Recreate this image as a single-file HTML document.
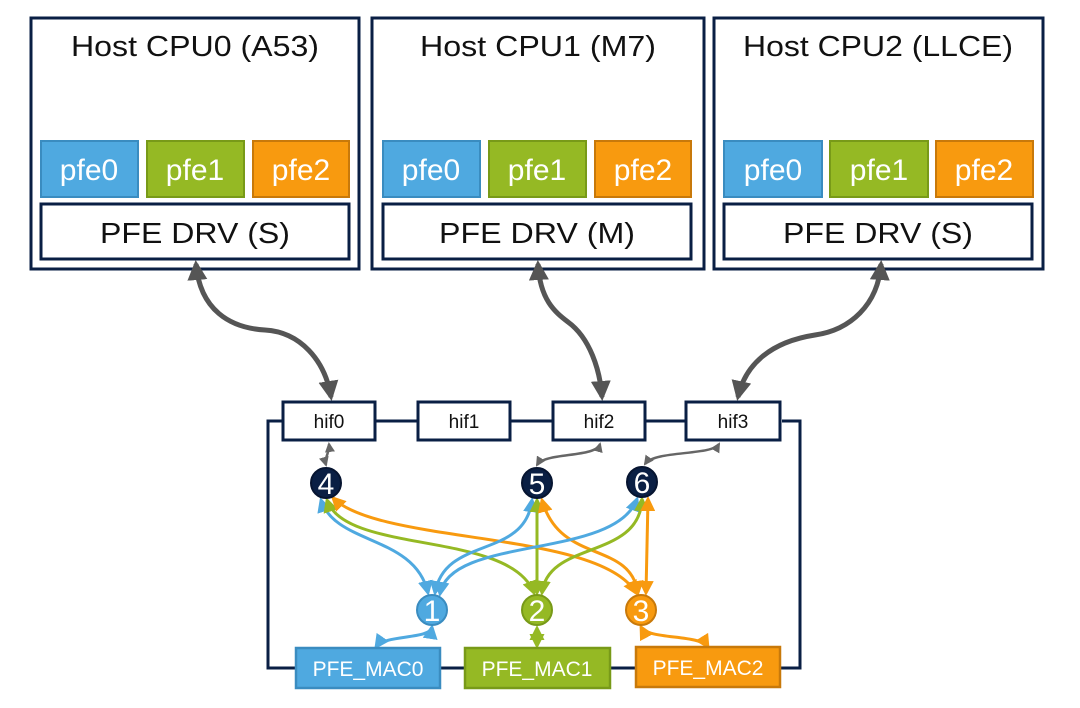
<!DOCTYPE html>
<html><head><meta charset="utf-8"><style>
html,body{margin:0;padding:0;background:#fff;}
svg{display:block;font-family:"Liberation Sans",Arial,sans-serif;}
</style></head><body>
<svg width="1080" height="708" viewBox="0 0 1080 708" xmlns="http://www.w3.org/2000/svg">
<defs>
<marker id="mg" viewBox="0 0 10 10" refX="8" refY="5" markerWidth="4" markerHeight="4" orient="auto-start-reverse" markerUnits="strokeWidth"><path d="M0,0 L10,5 L0,10 z" fill="#555"/></marker>
<marker id="mg2" viewBox="0 0 10 10" refX="8" refY="5" markerWidth="4" markerHeight="4" orient="auto-start-reverse" markerUnits="strokeWidth"><path d="M0,0 L10,5 L0,10 z" fill="#666"/></marker>
<marker id="mb" viewBox="0 0 10 10" refX="8" refY="5" markerWidth="5" markerHeight="5" orient="auto-start-reverse" markerUnits="strokeWidth"><path d="M0,0 L10,5 L0,10 z" fill="#4FA9E0"/></marker>
<marker id="mn" viewBox="0 0 10 10" refX="8" refY="5" markerWidth="5" markerHeight="5" orient="auto-start-reverse" markerUnits="strokeWidth"><path d="M0,0 L10,5 L0,10 z" fill="#95B924"/></marker>
<marker id="mo" viewBox="0 0 10 10" refX="8" refY="5" markerWidth="5" markerHeight="5" orient="auto-start-reverse" markerUnits="strokeWidth"><path d="M0,0 L10,5 L0,10 z" fill="#F89A0F"/></marker>
</defs>

<g stroke="#0A1F44" stroke-width="3" fill="#fff">
<rect x="31" y="18" width="328" height="251"/>
<rect x="372" y="18" width="332" height="251"/>
<rect x="714" y="18" width="329" height="251"/>
<rect x="41" y="204" width="308" height="55"/>
<rect x="383" y="204" width="308" height="55"/>
<rect x="724" y="204" width="308" height="55"/>
</g>
<g font-size="29" fill="#111" text-anchor="middle">
<text x="195" y="56" textLength="248" lengthAdjust="spacingAndGlyphs">Host CPU0 (A53)</text>
<text x="538" y="56" textLength="236" lengthAdjust="spacingAndGlyphs">Host CPU1 (M7)</text>
<text x="878" y="56" textLength="270" lengthAdjust="spacingAndGlyphs">Host CPU2 (LLCE)</text>
<text x="195" y="243" textLength="190" lengthAdjust="spacingAndGlyphs">PFE DRV (S)</text>
<text x="537" y="243" textLength="196" lengthAdjust="spacingAndGlyphs">PFE DRV (M)</text>
<text x="878" y="243" textLength="190" lengthAdjust="spacingAndGlyphs">PFE DRV (S)</text>
</g>
<g stroke-width="2">
<rect x="41" y="141" width="97" height="56" fill="#4FA9E0" stroke="#3A8CC0"/>
<rect x="147" y="141" width="97" height="56" fill="#95B924" stroke="#789A18"/>
<rect x="253" y="141" width="96" height="56" fill="#F89A0F" stroke="#C8790A"/>
<rect x="383" y="141" width="97" height="56" fill="#4FA9E0" stroke="#3A8CC0"/>
<rect x="489" y="141" width="97" height="56" fill="#95B924" stroke="#789A18"/>
<rect x="595" y="141" width="96" height="56" fill="#F89A0F" stroke="#C8790A"/>
<rect x="724" y="141" width="98" height="56" fill="#4FA9E0" stroke="#3A8CC0"/>
<rect x="830" y="141" width="98" height="56" fill="#95B924" stroke="#789A18"/>
<rect x="936" y="141" width="97" height="56" fill="#F89A0F" stroke="#C8790A"/>
</g>
<g font-size="30" fill="#fff" text-anchor="middle">
<text x="89" y="180">pfe0</text><text x="195" y="180">pfe1</text><text x="301" y="180">pfe2</text>
<text x="431" y="180">pfe0</text><text x="537" y="180">pfe1</text><text x="643" y="180">pfe2</text>
<text x="773" y="180">pfe0</text><text x="879" y="180">pfe1</text><text x="984" y="180">pfe2</text>
</g>

<g fill="none" stroke="#555" stroke-width="5" marker-start="url(#mg)" marker-end="url(#mg)">
<path d="M196,264 C200,310 230,328 265,330 C300,332 325,360 331,397"/>
<path d="M538,264 C540,300 555,312 568,322 C590,338 600,370 602,397"/>
<path d="M881,264 C878,305 850,330 815,335 C770,342 745,365 738,397"/>
</g>

<path d="M283,421 H268 V668 H296 M440,668 H465 M610,668 H636 M780,668 H800 V421 H782" fill="none" stroke="#0A1F44" stroke-width="3"/>
<path d="M375,421 H418 M510,421 H553 M645,421 H686" stroke="#0A1F44" stroke-width="3"/>
<g stroke="#0A1F44" stroke-width="3" fill="#fff">
<rect x="283" y="402" width="92" height="38"/>
<rect x="418" y="402" width="92" height="38"/>
<rect x="553" y="402" width="92" height="38"/>
<rect x="686" y="402" width="94" height="38"/>
</g>
<g font-size="19" fill="#111" text-anchor="middle">
<text x="329" y="428">hif0</text><text x="464" y="428">hif1</text><text x="599" y="428">hif2</text><text x="733" y="428">hif3</text>
</g>

<g fill="none" stroke="#666" stroke-width="2.5" marker-start="url(#mg2)" marker-end="url(#mg2)">
<path d="M329,444 C330,452 324,458 326,465"/>
<path d="M600,444 C596,458 545,452 537,465"/>
<path d="M719,444 C712,456 655,450 645,464"/>
</g>

<g fill="none" stroke-width="3">
<path d="M321,500 C335,545 415,535 428,593" stroke="#4FA9E0" marker-start="url(#mb)" marker-end="url(#mb)"/>
<path d="M327,500 C345,555 510,530 534,593" stroke="#95B924" marker-start="url(#mn)" marker-end="url(#mn)"/>
<path d="M333,498 C380,545 600,530 636,593" stroke="#F89A0F" marker-start="url(#mo)" marker-end="url(#mo)"/>
<path d="M532,500 C525,560 445,535 435,593" stroke="#4FA9E0" marker-start="url(#mb)" marker-end="url(#mb)"/>
<path d="M537,500 L537,593" stroke="#95B924" marker-start="url(#mn)" marker-end="url(#mn)"/>
<path d="M542,500 C560,565 630,540 638,593" stroke="#F89A0F" marker-start="url(#mo)" marker-end="url(#mo)"/>
<path d="M637,499 C615,560 450,535 440,594" stroke="#4FA9E0" marker-start="url(#mb)" marker-end="url(#mb)"/>
<path d="M642,499 C640,560 548,540 542,593" stroke="#95B924" marker-start="url(#mn)" marker-end="url(#mn)"/>
<path d="M648,499 L646,593" stroke="#F89A0F" marker-start="url(#mo)" marker-end="url(#mo)"/>
<path d="M432,627 C430,640 385,634 376,647" stroke="#4FA9E0" marker-start="url(#mb)" marker-end="url(#mb)"/>
<path d="M537,628 L537,646" stroke="#95B924" marker-start="url(#mn)" marker-end="url(#mn)"/>
<path d="M641,627 C648,640 700,634 708,647" stroke="#F89A0F" marker-start="url(#mo)" marker-end="url(#mo)"/>
</g>

<g stroke-width="2">
<circle cx="326" cy="483" r="15" fill="#0A1F44" stroke="#061430"/>
<circle cx="537" cy="483" r="15" fill="#0A1F44" stroke="#061430"/>
<circle cx="642" cy="482" r="15" fill="#0A1F44" stroke="#061430"/>
<circle cx="432" cy="610" r="15" fill="#4FA9E0" stroke="#3A8CC0"/>
<circle cx="537" cy="610" r="15" fill="#95B924" stroke="#789A18"/>
<circle cx="641" cy="610" r="15" fill="#F89A0F" stroke="#C8790A"/>
</g>
<g font-size="30" fill="#fff" text-anchor="middle">
<text x="326" y="494">4</text><text x="537" y="494">5</text><text x="642" y="493">6</text>
<text x="432" y="621">1</text><text x="537" y="621">2</text><text x="641" y="621">3</text>
</g>

<g stroke-width="2.5">
<rect x="296" y="648" width="144" height="40" fill="#4FA9E0" stroke="#3A8CC0"/>
<rect x="465" y="648" width="145" height="40" fill="#95B924" stroke="#789A18"/>
<rect x="636" y="647" width="144" height="40" fill="#F89A0F" stroke="#C8790A"/>
</g>
<g font-size="21" fill="#fff" text-anchor="middle">
<text x="368" y="676">PFE_MAC0</text><text x="537" y="676">PFE_MAC1</text><text x="708" y="675">PFE_MAC2</text>
</g>
</svg>
</body></html>
